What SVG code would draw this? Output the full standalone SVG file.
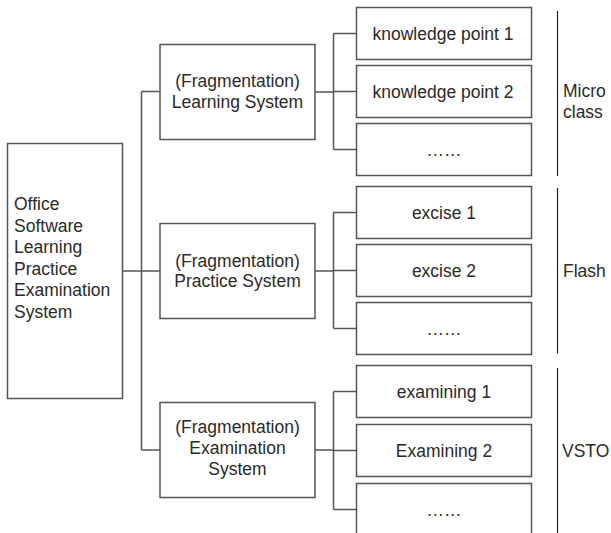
<svg xmlns="http://www.w3.org/2000/svg" width="611" height="533" viewBox="0 0 611 533">
<style>
.box{fill:#fff;stroke:#555;stroke-width:1.5}
.t{font-family:"Liberation Sans",Arial,sans-serif;font-size:17.5px;fill:#2a2a2a}
.c{text-anchor:middle}
.con{fill:none;stroke:#555;stroke-width:1.5}
.br{stroke:#222;stroke-width:1.2}
</style>
<rect width="611" height="533" fill="#fff"/>
<g id="connectors">
<path class="con" d="M122.5,271H160M141.5,91.5V450M141.5,91.5H160M141.5,450H160"/>
<path class="con" d="M315,92H333.5M333.5,33.5V149.5M333.5,33.5H356.5M333.5,91.5H356.5M333.5,149.5H356.5"/>
<path class="con" d="M315,271H333.5M333.5,212.5V328.5M333.5,212.5H356.5M333.5,270.5H356.5M333.5,328.5H356.5"/>
<path class="con" d="M315,450H333.5M333.5,391.5V509.5M333.5,391.5H356.5M333.5,450.5H356.5M333.5,509.5H356.5"/>
</g>
<g id="root">
<rect class="box" x="7.5" y="143.5" width="115" height="255"/>
<text class="t" x="14" y="210">Office</text>
<text class="t" x="14" y="231.5">Software</text>
<text class="t" x="14" y="253">Learning</text>
<text class="t" x="14" y="274.5">Practice</text>
<text class="t" x="14" y="296">Examination</text>
<text class="t" x="14" y="317.5">System</text>
</g>
<g id="learning">
<rect class="box" x="160" y="44.5" width="155" height="95"/>
<text class="t c" x="237.5" y="86.5">(Fragmentation)</text>
<text class="t c" x="237.5" y="107.5">Learning System</text>
</g>
<g id="practice">
<rect class="box" x="160" y="223.5" width="155" height="95"/>
<text class="t c" x="237.5" y="266.5">(Fragmentation)</text>
<text class="t c" x="237.5" y="287">Practice System</text>
</g>
<g id="examination">
<rect class="box" x="160" y="402.5" width="155" height="95"/>
<text class="t c" x="237.5" y="432.5">(Fragmentation)</text>
<text class="t c" x="237.5" y="453.5">Examination</text>
<text class="t c" x="237.5" y="474.5">System</text>
</g>
<g id="kp1"><rect class="box" x="356.5" y="7.5" width="175" height="52"/><text class="t c" x="443" y="39.5">knowledge point 1</text></g>
<g id="kp2"><rect class="box" x="356.5" y="65.5" width="175" height="52"/><text class="t c" x="443" y="97.5">knowledge point 2</text></g>
<g id="kp3"><rect class="box" x="356.5" y="123.5" width="175" height="52"/><text class="t c" x="444" y="155.5">……</text></g>
<g id="ex1"><rect class="box" x="356.5" y="186.5" width="175" height="52"/><text class="t c" x="444" y="218.5">excise 1</text></g>
<g id="ex2"><rect class="box" x="356.5" y="244.5" width="175" height="52"/><text class="t c" x="444" y="276.5">excise 2</text></g>
<g id="ex3"><rect class="box" x="356.5" y="302.5" width="175" height="52"/><text class="t c" x="444" y="334.5">……</text></g>
<g id="em1"><rect class="box" x="356.5" y="365.5" width="175" height="52"/><text class="t c" x="444" y="397.5">examining 1</text></g>
<g id="em2"><rect class="box" x="356.5" y="424.5" width="175" height="52"/><text class="t c" x="444" y="456.5">Examining 2</text></g>
<g id="em3"><rect class="box" x="356.5" y="483.5" width="175" height="52"/><text class="t c" x="444" y="515.5">……</text></g>
<g id="microclass">
<line class="br" x1="557.5" y1="11" x2="557.5" y2="176"/>
<text class="t" x="563" y="97">Micro</text>
<text class="t" x="563" y="118">class</text>
</g>
<g id="flash">
<line class="br" x1="557.5" y1="188" x2="557.5" y2="353.5"/>
<text class="t" x="563" y="276.5">Flash</text>
</g>
<g id="vsto">
<line class="br" x1="557.5" y1="368" x2="557.5" y2="533"/>
<text class="t" x="562" y="457">VSTO</text>
</g>
</svg>
